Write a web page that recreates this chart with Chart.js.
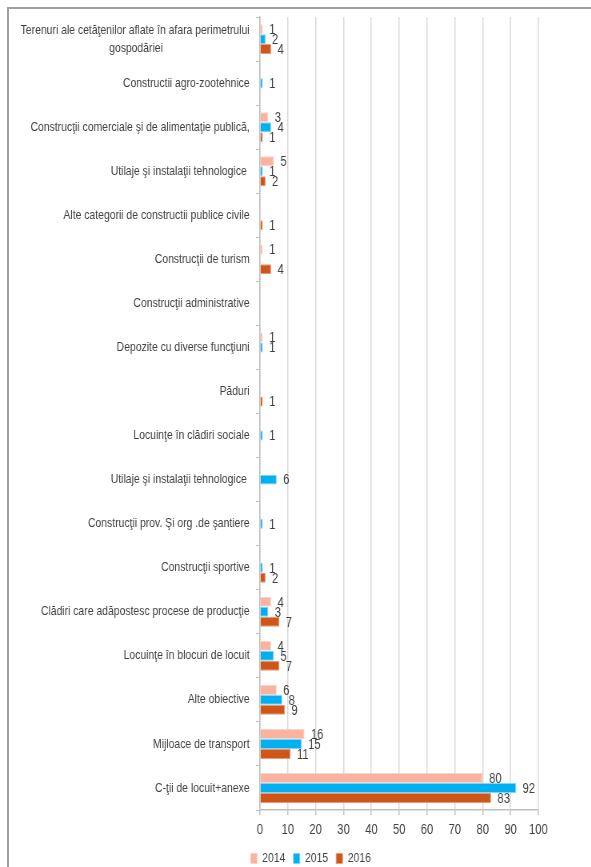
<!DOCTYPE html>
<html lang="ro">
<head>
  <meta charset="UTF-8" />
  <title>Autorizatii de construire 2014-2016</title>
  <script src="https://cdn.jsdelivr.net/npm/chart.js"></script>
  <style>
    html, body {
      margin: 0;
      padding: 0;
      background: #fff;
      overflow: hidden;
    }
    #frame {
      position: absolute;
      left: 7px;
      top: 7px;
      width: 700px;
      height: 900px;
      border-top: 2px solid #a0a0a0;
      border-left: 2px solid #a0a0a0;
    }
    /* the original picture is squeezed sideways, so the chart is laid out
       wider and then narrowed back to 591px */
    #wrap {
      position: absolute;
      left: 0;
      top: 0;
      width: 739px;
      height: 867px;
      transform: scaleX(0.8);
      transform-origin: 0 0;
    }
  </style>
</head>
<body>
  <div id="frame"></div>
  <div id="wrap"><canvas id="chart"></canvas></div>

  <script>
    const categories = [
      ['Terenuri ale cetăţenilor aflate în afara perimetrului', 'gospodăriei'],
      'Constructii agro-zootehnice',
      'Construcţii comerciale şi de alimentaţie publică,',
      'Utilaje şi instalaţii tehnologice ',
      'Alte categorii de constructii publice civile',
      'Construcţii de turism',
      'Construcţii administrative',
      'Depozite cu diverse funcţiuni',
      'Păduri',
      'Locuinţe în clădiri sociale',
      'Utilaje şi instalaţii tehnologice ',
      'Construcţii prov. Şi org .de şantiere',
      'Construcţii sportive',
      'Clădiri care adăpostesc procese de producţie',
      'Locuinţe în blocuri de locuit',
      'Alte obiective',
      'Mijloace de transport',
      'C-ţii de locuit+anexe'
    ];

    const values2014 = [1, null, 3, 5, null, 1, null, 1, null, null, null, null, null, 4, 4, 6, 16, 80];
    const values2015 = [2, 1, 4, 1, null, null, null, 1, null, 1, 6, 1, 1, 3, 5, 8, 15, 92];
    const values2016 = [4, null, 1, 2, 1, 4, null, null, 1, null, null, null, 2, 7, 7, 9, 11, 83];

    const xTicks = [0, 10, 20, 30, 40, 50, 60, 70, 80, 90, 100];

    const FONT = '"Liberation Sans", Arial, sans-serif';
    const TEXT = '#404040';

    // value labels next to the end of each bar
    const barLabels = {
      id: 'barLabels',
      afterDatasetsDraw(chart) {
        const ctx = chart.ctx;
        ctx.save();
        ctx.font = '14px ' + FONT;
        ctx.fillStyle = TEXT;
        ctx.textAlign = 'left';
        ctx.textBaseline = 'middle';
        chart.data.datasets.forEach((ds, i) => {
          const meta = chart.getDatasetMeta(i);
          meta.data.forEach((bar, j) => {
            const v = ds.data[j];
            if (v === null || v === undefined) return;
            ctx.fillText(String(v), bar.x + 8, bar.y + 1);
          });
        });
        ctx.restore();
      }
    };

    // legend sits a bit right of the page centre, under the plot
    const legendShift = {
      id: 'legendShift',
      afterLayout(chart) {
        chart.legend.left += 52;
        chart.legend.right += 52;
      }
    };

    // second line of the first label is centred under the first line
    function tickText(value, index) {
      const label = categories[index];
      if (!Array.isArray(label)) return label;
      return [label[0], label[1] + ' '.repeat(30)];
    }

    new Chart(document.getElementById('chart'), {
      type: 'bar',
      data: {
        labels: categories,
        datasets: [
          {
            label: '2014',
            data: values2014,
            backgroundColor: '#f9b3a0',
            borderColor: '#fcd2c6',
            borderWidth: 1,
            categoryPercentage: 0.68,
            barPercentage: 1.0
          },
          {
            label: '2015',
            data: values2015,
            backgroundColor: '#00b0f0',
            borderColor: '#7fd6f5',
            borderWidth: 1,
            categoryPercentage: 0.68,
            barPercentage: 1.0
          },
          {
            label: '2016',
            data: values2016,
            backgroundColor: '#cf5518',
            borderColor: '#e89a74',
            borderWidth: 1,
            categoryPercentage: 0.68,
            barPercentage: 1.0
          }
        ]
      },
      options: {
        indexAxis: 'y',
        responsive: true,
        maintainAspectRatio: false,
        animation: false,
        layout: {
          padding: { top: 16, right: 66, bottom: -8, left: 0 }
        },
        plugins: {
          legend: {
            position: 'bottom',
            labels: {
              boxWidth: 8,
              boxHeight: 10,
              padding: 10,
              color: TEXT,
              font: { family: FONT, size: 13 }
            }
          },
          tooltip: { enabled: false }
        },
        scales: {
          x: {
            min: 0,
            max: 100,
            afterBuildTicks: scale => {
              scale.ticks = xTicks.map(v => ({ value: v }));
            },
            afterFit: scale => { scale.height = 32; },
            grid: {
              color: '#d9d9d9',
              lineWidth: 1.5,
              tickLength: 5,
              tickColor: '#bfbfbf'
            },
            border: { color: '#bfbfbf', width: 1.5 },
            ticks: {
              color: TEXT,
              padding: 7,
              maxRotation: 0,
              autoSkip: false,
              font: { family: FONT, size: 14 }
            }
          },
          y: {
            afterFit: scale => { scale.width = 325; },
            grid: {
              drawOnChartArea: false,
              tickLength: 5,
              color: '#bfbfbf'
            },
            border: { color: '#bfbfbf', width: 1.5 },
            ticks: {
              color: TEXT,
              padding: 8,
              autoSkip: false,
              font: { family: FONT, size: 13, lineHeight: 1.4 },
              callback: tickText
            }
          }
        }
      },
      plugins: [barLabels, legendShift]
    });
  </script>
</body>
</html>
